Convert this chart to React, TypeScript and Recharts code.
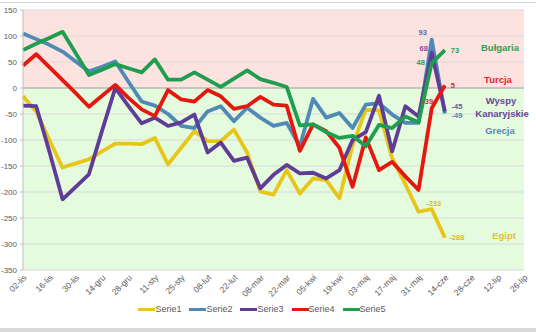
import { LineChart, Line, XAxis, YAxis, CartesianGrid, ReferenceLine, Legend, LabelList } from 'recharts'

const dates = ['02-lis','09-lis','16-lis','23-lis','30-lis','07-gru','14-gru','21-gru','28-gru','04-sty','11-sty','18-sty','25-sty','01-lut','08-lut','15-lut','22-lut','01-mar','08-mar','15-mar','22-mar','29-mar','05-kwi','12-kwi','19-kwi','26-kwi','03-maj','10-maj','17-maj','24-maj','31-maj','07-cze','14-cze','21-cze','28-cze','05-lip','12-lip','19-lip','26-lip']

// Egipt
const serie1 = [-16,-45,-100,-153,-145,-137,-122,-107,-107,-108,-96,-147,-115,-83,-102,-102,-80,-124,-199,-205,-158,-203,-174,-177,-212,-110,-42,-43,-135,-185,-238,-233,-288]
// Grecja
const serie2 = [105,94,83,70,51,32,41,51,12,-26,-34,-50,-73,-77,-45,-35,-64,-38,-57,-73,-67,-112,-21,-57,-48,-77,-32,-29,-51,-67,-67,93,-49]
// Wyspy Kanaryjskie
const serie3 = [-34,-35,-122,-214,-190,-166,-82,0,-35,-68,-57,-73,-66,-51,-124,-105,-140,-134,-193,-167,-148,-164,-163,-174,-158,-100,-85,-15,-122,-35,-55,68,-45]
// Turcja
const serie4 = [43,65,40,15,-10,-36,-15,6,-19,-41,-54,-4,-22,-26,-4,-16,-40,-35,-17,-32,-34,-121,-70,-83,-115,-190,-95,-158,-142,-170,-196,-39,5]
// Bułgaria
const serie5 = [73,85,96,108,67,25,35,46,38,30,55,16,16,30,16,2,18,34,17,10,2,-72,-70,-85,-96,-92,-112,-71,-77,-55,-66,48,73]

const yTicks = [-350,-300,-250,-200,-150,-100,-50,0,50,100,150]

const data = dates.map((d, i) => ({
  d,
  s1: serie1[i] ?? null,
  s2: serie2[i] ?? null,
  s3: serie3[i] ?? null,
  s4: serie4[i] ?? null,
  s5: serie5[i] ?? null,
}))

const series = [
  { key: 's1', name: 'Serie1', color: '#e8c619' },
  { key: 's2', name: 'Serie2', color: '#4f8ab6' },
  { key: 's3', name: 'Serie3', color: '#5f3d96' },
  { key: 's4', name: 'Serie4', color: '#e5180f' },
  { key: 's5', name: 'Serie5', color: '#1f9e4f' },
]

// which points get a value label, and where it sits relative to the point
const pointLabels: Record<string, Record<number, { dx: number; dy: number; color: string }>> = {
  s1: { 31: { dx: 2, dy: -6, color: '#d9b82a' }, 32: { dx: 12, dy: 0, color: '#d9b82a' } },
  s2: { 31: { dx: -9, dy: -7, color: '#5e6aa6' }, 32: { dx: 12, dy: 2.5, color: '#4f86b6' } },
  s3: { 31: { dx: -8, dy: -4, color: '#8b4c9e' }, 32: { dx: 12, dy: -4.5, color: '#5e5aa0' } },
  s4: { 31: { dx: -4, dy: -7, color: '#e0261c' }, 32: { dx: 8, dy: 0, color: '#e0261c' } },
  s5: { 31: { dx: -11, dy: -1, color: '#2ea054' }, 32: { dx: 10, dy: 0, color: '#2ea054' } },
}

const notes = [
  { text: 'Bułgaria', x: 500, y: 47, color: '#2e9e4f' },
  { text: 'Turcja', x: 498, y: 79, color: '#df2a2a' },
  { text: 'Wyspy', x: 501, y: 100, color: '#66479a' },
  { text: 'Kanaryjskie', x: 502, y: 113, color: '#66479a' },
  { text: 'Grecja', x: 500, y: 130, color: '#5f86b6' },
  { text: 'Egipt', x: 504, y: 235, color: '#e2c02e' },
]

const font = '"Liberation Sans", Arial, sans-serif'

const XTick = ({ x, y, payload }: any) => (
  <text x={x + 2} y={y} transform={`rotate(-45 ${x + 2} ${y})`} textAnchor="end" dominantBaseline="central"
    fontSize={8.5} fill="#595959" fontFamily={font}>
    {payload.value}
  </text>
)

const mkLabel = (key: string) => (props: any) => {
  const cfg = pointLabels[key][props.index]
  if (!cfg || props.value == null) return null
  return (
    <text x={props.x + cfg.dx} y={props.y + cfg.dy} textAnchor="middle" dominantBaseline="central"
      fontSize={7.5} fontWeight="bold" fill={cfg.color} fontFamily={font}>
      {props.value}
    </text>
  )
}

const LegendContent = () => (
  <div style={{ display: 'flex', justifyContent: 'center', gap: 8, fontFamily: font, fontSize: 9, color: '#595959' }}>
    {series.map(s => (
      <div key={s.key} style={{ display: 'flex', alignItems: 'center' }}>
        <span style={{ display: 'inline-block', width: 17, height: 3, background: s.color }} />
        <span>{s.name}</span>
      </div>
    ))}
  </div>
)

export default function App() {
  return (
    <div style={{ position: 'relative', width: 536, height: 332, background: '#fff', overflow: 'hidden' }}>
      <style>{'body{margin:0}'}</style>
      <div style={{ position: 'absolute', left: 0, top: 2, width: 536, height: 1, background: '#d4d4d4' }} />
      <div style={{ position: 'absolute', left: 0, top: 328, width: 536, height: 4, background: '#d9d9d9' }} />
      <LineChart width={536} height={332} data={data} margin={{ top: 10, right: 12, left: 0, bottom: 6 }}>
        <CartesianGrid vertical={false} stroke="#d9d9d9"
          horizontalFill={['#fde3df','#fde3df','#fde3df','#e4fcdd','#e4fcdd','#e4fcdd','#e4fcdd','#e4fcdd','#e4fcdd','#e4fcdd']} />
        <XAxis dataKey="d" interval={1} tick={<XTick />} tickSize={0} tickMargin={6} axisLine={false} height={34} />
        <YAxis domain={[-350, 150]} ticks={yTicks} width={23} tickSize={3} tickMargin={3}
          tick={{ fontSize: 8, fill: '#595959', fontFamily: font }} stroke="#bfbfbf" />
        <ReferenceLine y={0} stroke="#a6a6a6" />
        <Legend height={22} verticalAlign="bottom" content={<LegendContent />} />
        {series.map(s => (
          <Line key={s.key} type="linear" dataKey={s.key} name={s.name} stroke={s.color} strokeWidth={3.8}
            strokeLinejoin="round" dot={false} isAnimationActive={false}>
            <LabelList dataKey={s.key} content={mkLabel(s.key)} />
          </Line>
        ))}
      </LineChart>
      <svg width={536} height={332} style={{ position: 'absolute', left: 0, top: 0, pointerEvents: 'none' }}>
        {notes.map(n => (
          <text key={n.text} x={n.x} y={n.y} textAnchor="middle" dominantBaseline="central" fontSize={9.5}
            fontWeight="bold" fill={n.color} fontFamily={font}>
            {n.text}
          </text>
        ))}
      </svg>
    </div>
  )
}
